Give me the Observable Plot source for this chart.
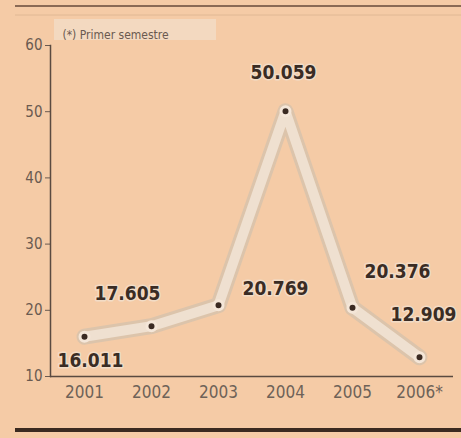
<!DOCTYPE html>
<html>
<head>
<meta charset="utf-8">
<script src="https://cdn.jsdelivr.net/npm/d3@7"></script>
<script src="https://cdn.jsdelivr.net/npm/@observablehq/plot@0.6"></script>
<style>
  html, body { margin: 0; padding: 0; background: #f5cba6; }
  #chart { width: 461px; height: 438px; }
</style>
</head>
<body>
<div id="chart"></div>
<script>
const years = ["2001", "2002", "2003", "2004", "2005", "2006*"];
const values = [16.011, 17.605, 20.769, 50.059, 20.376, 12.909];
const valueLabels = ["16.011", "17.605", "20.769", "50.059", "20.376", "12.909"];
const yTicks = [10, 20, 30, 40, 50, 60];
const note = "(*) Primer semestre";

const data = years.map((year, i) => ({year, value: values[i], label: valueLabels[i]}));

const FONT = "'Liberation Sans Narrow', 'DejaVu Sans Condensed', 'Roboto Condensed', sans-serif";

function label(i, dx, dy) {
  return Plot.text([data[i]], {
    x: "year", y: "value", text: "label",
    dx, dy,
    fontSize: 19, fontWeight: "bold", fill: "#3a2c24",
    stroke: "#f2dcc6", strokeWidth: 3,
    fontFamily: FONT
  });
}

const chart = Plot.plot({
  width: 461,
  height: 438,
  marginLeft: 50,
  marginRight: 8,
  marginTop: 45,
  marginBottom: 62,
  style: {background: "#f5cba6", fontFamily: FONT, overflow: "visible"},
  x: {type: "point", domain: years, padding: 0.48},
  y: {domain: [10, 60]},
  marks: [
    Plot.axisY({ticks: yTicks, tickSize: 5, tickPadding: 3, fontSize: 15, color: "#6a5a50", label: null}),
    Plot.axisX({tickSize: 0, tickPadding: 9, fontSize: 17, color: "#6e6258", label: null}),
    Plot.frame({anchor: "left", stroke: "#5a4a40", strokeWidth: 1.5}),
    Plot.ruleY([10], {stroke: "#5a4a40", strokeWidth: 1.5}),
    Plot.line(data, {x: "year", y: "value", stroke: "#dcc4ab", strokeWidth: 16, strokeLinejoin: "round", strokeLinecap: "round"}),
    Plot.line(data, {x: "year", y: "value", stroke: "#efe0d0", strokeWidth: 10, strokeLinejoin: "round", strokeLinecap: "round"}),
    Plot.dot(data, {x: "year", y: "value", r: 4.5, fill: "#3a2a22", stroke: "#f4e6d8", strokeWidth: 3}),
    label(0, 6, 24),
    label(1, -24, -32),
    label(2, 57, -16),
    label(3, -2, -38),
    label(4, 45, -36),
    label(5, 4, -42),
    Plot.text([note], {frameAnchor: "top-left", textAnchor: "start", dx: 12, dy: -15, fontSize: 12, fill: "#6a5a50", fontFamily: FONT})
  ]
});

const svg = d3.select(chart);
// decorations
svg.insert("rect", ":first-child")
  .attr("x", 54).attr("y", 19).attr("width", 162).attr("height", 21)
  .attr("fill", "#f3d9c0");
svg.append("line").attr("x1", 15).attr("x2", 461).attr("y1", 6).attr("y2", 6)
  .attr("stroke", "#8a6a55").attr("stroke-width", 2);
svg.append("line").attr("x1", 15).attr("x2", 461).attr("y1", 15).attr("y2", 15)
  .attr("stroke", "#e0b894").attr("stroke-width", 1);
svg.append("line").attr("x1", 15).attr("x2", 461).attr("y1", 430).attr("y2", 430)
  .attr("stroke", "#3b2a20").attr("stroke-width", 4);

document.getElementById("chart").appendChild(chart);
</script>
</body>
</html>
